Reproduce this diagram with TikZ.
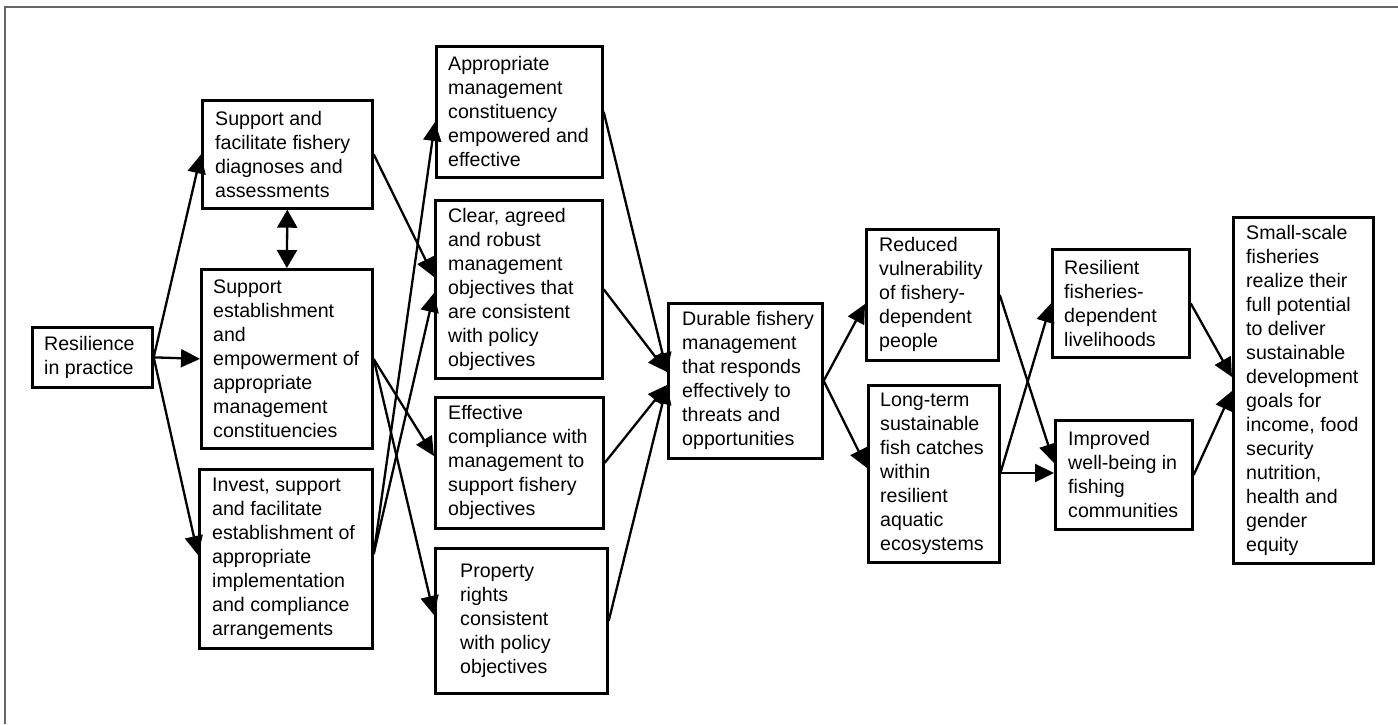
\documentclass[tikz,border=0pt]{standalone}
\usepackage{fontspec}
\setmainfont{Liberation Sans}
\usetikzlibrary{arrows.meta,calc}
\begin{document}
\begin{tikzpicture}[x=1pt,y=-1pt,
  box/.style 2 args={draw, line width=2.7pt, minimum width=#1, minimum height=#2,
    inner sep=0pt, anchor=north west},
  txt/.style={anchor=west, align=left, inner sep=0pt,
    font=\fontsize{19.6}{24}\selectfont},
  conn/.style={line width=2.3pt, -{Triangle[length=19pt,width=18pt]}},
  both/.style={line width=2.3pt, {Triangle[length=18pt,width=20pt]}-{Triangle[length=18pt,width=20pt]}},
  frame/.style={draw=black!60, line width=1.3pt}]

\useasboundingbox (0,0) rectangle (1398,724);

% outer frame (top and left edges)
\draw[frame] (5,724) -- (5,7) -- (1398,7);

% ---- boxes ----
\node[box={120pt}{60pt}]  (A) at (31,326) {};
\node[txt] (At) at ([xshift=13pt]A.west) {Resilience\\in practice};

\node[box={170pt}{108pt}] (B) at (201,99) {};
\node[txt] (Bt) at ([xshift=14pt]B.west) {Support and\\facilitate fishery\\diagnoses and\\assessments};

\node[box={171pt}{179pt}] (C) at (200,268) {};
\node[txt] (Ct) at ([xshift=13pt]C.west) {Support\\establishment\\and\\empowerment of\\appropriate\\management\\constituencies};

\node[box={173pt}{179pt}] (D) at (198,468) {};
\node[txt] (Dt) at ([xshift=14pt]D.west) {Invest, support\\and facilitate\\establishment of\\appropriate\\implementation\\and compliance\\arrangements};

\node[box={166pt}{131pt}] (E) at (435,45) {};
\node[txt] (Et) at ([xshift=13pt]E.west) {Appropriate\\management\\constituency\\empowered and\\effective};

\node[box={167pt}{178pt}] (F) at (434,199) {};
\node[txt] (Ft) at ([xshift=14pt]F.west) {Clear, agreed\\and robust\\management\\objectives that\\are consistent\\with policy\\objectives};

\node[box={168pt}{131pt}] (G) at (434,396) {};
\node[txt] (Gt) at ([xshift=14pt]G.west) {Effective\\compliance with\\management to\\support fishery\\objectives};

\node[box={172pt}{145pt}] (H) at (434,547) {};
\node[txt] (Ht) at ([xshift=26pt]H.west) {Property\\rights\\consistent\\with policy\\objectives};

\node[box={154pt}{155pt}] (I) at (667,302) {};
\node[txt] (It) at ([xshift=15pt]I.west) {Durable fishery\\management\\that responds\\effectively to\\threats and\\opportunities};

\node[box={132pt}{131pt}] (J) at (865,228) {};
\node[txt] (Jt) at ([xshift=14pt]J.west) {Reduced\\vulnerability\\of fishery-\\dependent\\people};

\node[box={131pt}{177pt}] (K) at (867,384) {};
\node[txt] (Kt) at ([xshift=13pt]K.west) {Long-term\\sustainable\\fish catches\\within\\resilient\\aquatic\\ecosystems};

\node[box={137pt}{108pt}] (L) at (1051,248) {};
\node[txt] (Lt) at ([xshift=13pt]L.west) {Resilient\\fisheries-\\dependent\\livelihoods};

\node[box={137pt}{109pt}] (M) at (1054,419) {};
\node[txt] (Mt) at ([xshift=14pt]M.west) {Improved\\well-being in\\fishing\\communities};

\node[box={140pt}{346pt}] (N) at (1232,216) {};
\node[txt] (Nt) at ([xshift=14pt]N.west) {Small-scale\\fisheries\\realize their\\full potential\\to deliver\\sustainable\\development\\goals for\\income, food\\security\\nutrition,\\health and\\gender\\equity};

% ---- connectors ----
\draw[conn] (A.east) -- (B.west);
\draw[conn] (A.east) -- (C.west);
\draw[conn] (A.east) -- ($(D.north west)+(0,87)$);
\draw[both] (B.south) -- (C.north);

\draw[conn] (B.east) -- ($(F.north west)+(0,78)$);
\draw[conn] ($(D.north east)+(0,86)$) -- ($(E.north west)+(0,77)$);
\draw[conn] ($(D.north east)+(0,86)$) -- ($(F.north west)+(0,94)$);
\draw[conn] ($(C.north east)+(0,91)$) -- ($(G.north west)+(0,60)$);
\draw[conn] ($(C.north east)+(0,91)$) -- ($(H.north west)+(0,68)$);

\draw[conn] (E.east) -- ($(I.north west)+(0,70)$);
\draw[conn] (F.east) -- ($(I.north west)+(0,70)$);
\draw[conn] (G.east) -- ($(I.north west)+(0,83)$);
\draw[conn] (H.east) -- ($(I.north west)+(0,83)$);

\draw[conn] (I.east) -- ($(J.north west)+(0,76)$);
\draw[conn] (I.east) -- ($(K.north west)+(0,84)$);

\draw[conn] (J.east) -- ($(M.north west)+(0,44)$);
\draw[conn] ($(K.north east)+(0,88)$) -- (L.west);
\draw[conn] ($(K.north east)+(0,89)$) -- ($(M.north west)+(0,54)$);

\draw[conn] (L.east) -- ($(N.north west)+(0,161)$);
\draw[conn] (M.east) -- ($(N.north west)+(0,175)$);
\end{tikzpicture}
\end{document}
